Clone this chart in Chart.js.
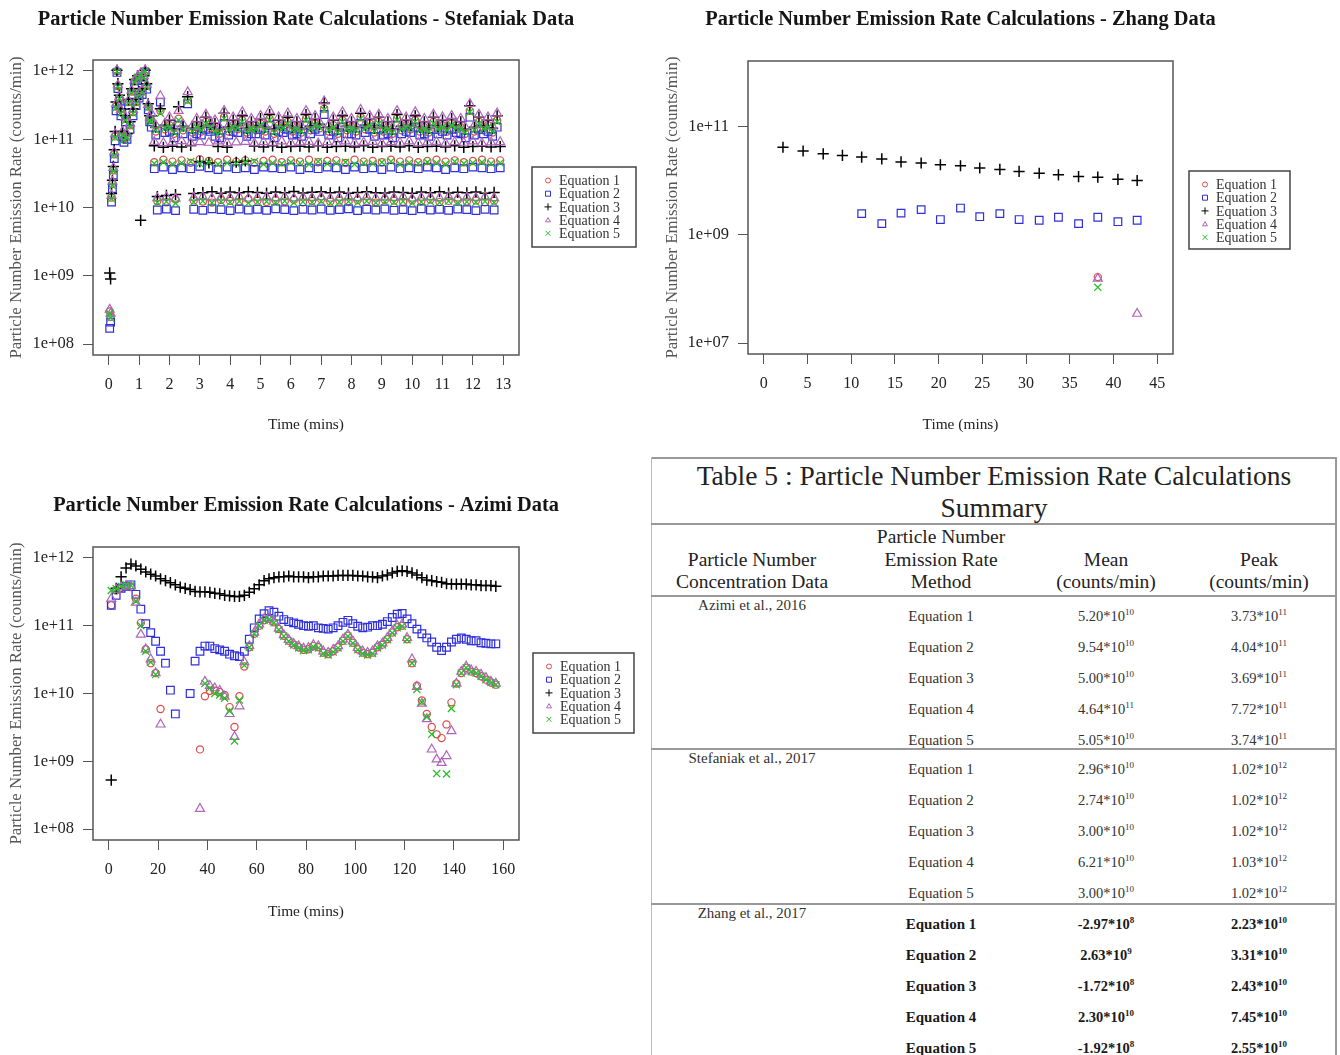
<!DOCTYPE html>
<html>
<head>
<meta charset="utf-8">
<script src="https://cdn.jsdelivr.net/npm/chart.js@4.4.1/dist/chart.umd.min.js"></script>
<style>
  body { margin: 0; background: #fff; width: 1340px; height: 1055px; overflow: hidden; position: relative;
         font-family: "Liberation Serif", "Times New Roman", serif; }
  .plot { position: absolute; }
  .txt { position: absolute; transform: translate(-50%, -50%); white-space: nowrap; color: #222; }
  .rule { position: absolute; background: #999; }
</style>
</head>
<body>
<div class="plot" style="left:0;top:0;width:650px;height:445px"><canvas id="stef"></canvas></div>
<div class="plot" style="left:660px;top:0;width:680px;height:445px"><canvas id="zhang"></canvas></div>
<div class="plot" style="left:0;top:480px;width:650px;height:455px"><canvas id="azimi"></canvas></div>
<div id="table"></div>

<script>
// ------------------------------------------------------------
// SERIES NAMES / STYLES
// ------------------------------------------------------------
const eqNames = ["Equation 1", "Equation 2", "Equation 3", "Equation 4", "Equation 5"];
const eqStyles = ["circle", "rect", "cross", "triangle", "crossRot"];
const eqColors = ["#de4a4a", "#2f2fdc", "#000000", "#b064bc", "#26c026"];

// ------------------------------------------------------------
// STEFANIAK DATA (time in minutes)
// ------------------------------------------------------------
const stefXTicks = [0, 1, 2, 3, 4, 5, 6, 7, 8, 9, 10, 11, 12, 13];
const stefYTicks = [1e8, 1e9, 1e10, 1e11, 1e12];
const stefYLabels = ["1e+08", "1e+09", "1e+10", "1e+11", "1e+12"];

const stefEarlyTime = [0.03, 0.06, 0.09, 0.12, 0.15, 0.18, 0.21, 0.24, 0.27, 0.3, 0.35, 0.4, 0.45, 0.5, 0.55,
  0.6, 0.65, 0.7, 0.75, 0.8, 0.85, 0.9, 0.95, 1.0, 1.05, 1.1, 1.15, 1.2, 1.25, 1.3, 1.35];
const stefEarlyEq1 = [3.0e8, 2.5e8, 1.4e10, 2.2e10, 3.5e10, 6.0e10, 1.1e11, 3.0e11, 1.0e12, 6.0e11, 4.0e11, 2.5e11, 1.2e11, 1.0e11, 2.0e11,
  1.1e11, 3.5e11, 1.6e11, 5.0e11, 2.5e11, 7.0e11, 3.5e11, 8.0e11, 4.5e11, 9.0e11, 5.0e11, 8.0e11, 1.0e12, 6.0e11, 3.0e11, 2.0e11];
const stefEarlyEq2 = [1.7e8, 2.1e8, 1.2e10, 1.9e10, 3.0e10, 5.2e10, 9.5e10, 2.6e11, 9.5e11, 5.5e11, 3.6e11, 2.2e11, 1.1e11, 9.0e10, 1.8e11,
  1.0e11, 3.1e11, 1.4e11, 4.5e11, 2.2e11, 6.3e11, 3.1e11, 7.2e11, 4.0e11, 8.2e11, 4.5e11, 7.3e11, 9.6e11, 5.4e11, 2.7e11, 1.8e11];
const stefEarlyEq3 = [1.1e9, 9.0e8, 1.6e10, 2.5e10, 4.0e10, 7.0e10, 1.3e11, 3.5e11, 1.02e12, 6.5e11, 4.4e11, 2.8e11, 1.3e11, 1.1e11, 2.2e11,
  1.2e11, 3.8e11, 1.8e11, 5.5e11, 2.8e11, 7.5e11, 3.8e11, 8.5e11, 5.0e11, 6.5e9, 5.5e11, 8.6e11, 1.02e12, 6.5e11, 3.3e11, 2.2e11];
const stefEarlyEq4 = [3.2e8, 2.8e8, 1.5e10, 2.4e10, 3.8e10, 6.5e10, 1.2e11, 3.3e11, 1.03e12, 6.2e11, 4.2e11, 2.7e11, 1.3e11, 1.1e11, 2.1e11,
  1.2e11, 3.7e11, 1.7e11, 5.2e11, 2.7e11, 7.3e11, 3.7e11, 8.3e11, 4.8e11, 9.3e11, 5.3e11, 8.4e11, 1.03e12, 6.3e11, 3.2e11, 2.1e11];
const stefEarlyEq5 = [2.8e8, 2.4e8, 1.35e10, 2.1e10, 3.4e10, 5.8e10, 1.05e11, 2.9e11, 9.8e11, 5.8e11, 3.9e11, 2.4e11, 1.15e11, 9.7e10, 1.9e11,
  1.05e11, 3.4e11, 1.55e11, 4.8e11, 2.4e11, 6.8e11, 3.4e11, 7.8e11, 4.4e11, 8.8e11, 4.9e11, 7.8e11, 1.0e12, 5.8e11, 2.9e11, 1.9e11];

// upper band
const stefHighTime = [1.4, 1.7, 2.0, 2.3, 2.6, 2.9, 3.2, 3.5, 3.8, 4.1, 4.4, 4.7, 5.0, 5.3, 5.6, 5.9, 6.2, 6.5, 6.8, 7.1,
  7.4, 7.7, 8.0, 8.3, 8.6, 8.9, 9.2, 9.5, 9.8, 10.1, 10.4, 10.7, 11.0, 11.3, 11.6, 11.9, 12.2, 12.5, 12.8];
const stefHighEq1 = [1.9e11, 2.6e11, 1.6e11, 2.0e11, 3.8e11, 1.5e11, 1.8e11, 1.4e11, 2.1e11, 1.6e11,
  1.9e11, 1.5e11, 1.7e11, 2.0e11, 1.6e11, 1.8e11, 1.5e11, 2.0e11, 1.7e11, 2.8e11,
  1.6e11, 1.9e11, 1.5e11, 2.1e11, 1.7e11, 1.8e11, 1.5e11, 2.0e11, 1.6e11, 1.9e11,
  1.5e11, 1.8e11, 1.6e11, 1.7e11, 1.5e11, 2.6e11, 1.8e11, 1.6e11, 1.9e11];
const stefHighEq2 = [1.5e11, 3.5e11, 1.3e11, 1.6e11, 3.3e11, 1.2e11, 1.4e11, 1.1e11, 1.7e11, 1.3e11,
  1.5e11, 1.2e11, 1.4e11, 1.6e11, 1.3e11, 1.4e11, 1.2e11, 1.6e11, 1.4e11, 2.3e11,
  1.3e11, 1.5e11, 1.2e11, 1.7e11, 1.4e11, 1.4e11, 1.2e11, 1.6e11, 1.3e11, 1.5e11,
  1.2e11, 1.4e11, 1.3e11, 1.4e11, 1.2e11, 2.1e11, 1.4e11, 1.3e11, 1.5e11];
const stefHighEq3 = [2.2e11, 2.8e11, 1.9e11, 3.0e11, 4.2e11, 1.8e11, 2.1e11, 1.7e11, 2.4e11, 1.9e11,
  2.2e11, 1.8e11, 2.0e11, 2.3e11, 1.9e11, 2.1e11, 1.8e11, 2.3e11, 2.0e11, 3.4e11,
  1.9e11, 2.2e11, 1.8e11, 2.4e11, 2.0e11, 2.1e11, 1.8e11, 2.3e11, 1.9e11, 2.2e11,
  1.8e11, 2.1e11, 1.9e11, 2.0e11, 1.8e11, 3.1e11, 2.1e11, 1.9e11, 2.2e11];
const stefHighEq4 = [2.4e11, 4.3e11, 2.1e11, 2.6e11, 4.9e11, 2.0e11, 2.3e11, 1.9e11, 2.6e11, 2.1e11,
  2.5e11, 2.0e11, 2.2e11, 2.6e11, 2.1e11, 2.4e11, 2.0e11, 2.6e11, 2.2e11, 3.6e11,
  2.1e11, 2.5e11, 2.0e11, 2.7e11, 2.2e11, 2.3e11, 2.0e11, 2.6e11, 2.1e11, 2.5e11,
  2.0e11, 2.3e11, 2.1e11, 2.2e11, 2.0e11, 3.3e11, 2.3e11, 2.1e11, 2.4e11];
const stefHighEq5 = [1.8e11, 2.4e11, 1.5e11, 1.9e11, 3.6e11, 1.5e11, 1.7e11, 1.3e11, 2.0e11, 1.5e11,
  1.8e11, 1.4e11, 1.6e11, 1.9e11, 1.5e11, 1.7e11, 1.4e11, 1.9e11, 1.6e11, 2.7e11,
  1.5e11, 1.8e11, 1.4e11, 2.0e11, 1.6e11, 1.7e11, 1.4e11, 1.9e11, 1.5e11, 1.8e11,
  1.4e11, 1.7e11, 1.5e11, 1.6e11, 1.4e11, 2.5e11, 1.7e11, 1.5e11, 1.8e11];

// upper band, lower edge (between the samples above)
const stefHigh2Time = [1.55, 1.85, 2.15, 2.45, 2.75, 3.05, 3.35, 3.65, 3.95, 4.25, 4.55, 4.85, 5.15, 5.45, 5.75, 6.05, 6.35, 6.65, 6.95,
  7.25, 7.55, 7.85, 8.15, 8.45, 8.75, 9.05, 9.35, 9.65, 9.95, 10.25, 10.55, 10.85, 11.15, 11.45, 11.75, 12.05, 12.35, 12.65];
const stefHigh2Eq1 = [1.3e11, 1.4e11, 1.2e11, 1.35e11, 1.25e11, 1.3e11, 1.45e11, 1.2e11, 1.3e11, 1.4e11,
  1.25e11, 1.35e11, 1.3e11, 1.2e11, 1.4e11, 1.3e11, 1.25e11, 1.35e11, 1.45e11, 1.3e11,
  1.2e11, 1.35e11, 1.3e11, 1.4e11, 1.25e11, 1.3e11, 1.2e11, 1.35e11, 1.4e11, 1.3e11,
  1.25e11, 1.35e11, 1.3e11, 1.4e11, 1.2e11, 1.3e11, 1.35e11, 1.25e11];
const stefHigh2Eq2 = [1.15e11, 1.25e11, 1.05e11, 1.2e11, 1.1e11, 1.15e11, 1.3e11, 1.05e11, 1.15e11, 1.25e11,
  1.1e11, 1.2e11, 1.15e11, 1.05e11, 1.25e11, 1.15e11, 1.1e11, 1.2e11, 1.3e11, 1.15e11,
  1.05e11, 1.2e11, 1.15e11, 1.25e11, 1.1e11, 1.15e11, 1.05e11, 1.2e11, 1.25e11, 1.15e11,
  1.1e11, 1.2e11, 1.15e11, 1.25e11, 1.05e11, 1.15e11, 1.2e11, 1.1e11];
const stefHigh2Eq3 = [1.5e11, 1.6e11, 1.4e11, 1.55e11, 1.45e11, 1.5e11, 1.65e11, 1.4e11, 1.5e11, 1.6e11,
  1.45e11, 1.55e11, 1.5e11, 1.4e11, 1.6e11, 1.5e11, 1.45e11, 1.55e11, 1.65e11, 1.5e11,
  1.4e11, 1.55e11, 1.5e11, 1.6e11, 1.45e11, 1.5e11, 1.4e11, 1.55e11, 1.6e11, 1.5e11,
  1.45e11, 1.55e11, 1.5e11, 1.6e11, 1.4e11, 1.5e11, 1.55e11, 1.45e11];
const stefHigh2Eq4 = [1.6e11, 1.7e11, 1.5e11, 1.65e11, 1.55e11, 1.6e11, 1.75e11, 1.5e11, 1.6e11, 1.7e11,
  1.55e11, 1.65e11, 1.6e11, 1.5e11, 1.7e11, 1.6e11, 1.55e11, 1.65e11, 1.75e11, 1.6e11,
  1.5e11, 1.65e11, 1.6e11, 1.7e11, 1.55e11, 1.6e11, 1.5e11, 1.65e11, 1.7e11, 1.6e11,
  1.55e11, 1.65e11, 1.6e11, 1.7e11, 1.5e11, 1.6e11, 1.65e11, 1.55e11];
const stefHigh2Eq5 = [1.35e11, 1.45e11, 1.25e11, 1.4e11, 1.3e11, 1.35e11, 1.5e11, 1.25e11, 1.35e11, 1.45e11,
  1.3e11, 1.4e11, 1.35e11, 1.25e11, 1.45e11, 1.35e11, 1.3e11, 1.4e11, 1.5e11, 1.35e11,
  1.25e11, 1.4e11, 1.35e11, 1.45e11, 1.3e11, 1.35e11, 1.25e11, 1.4e11, 1.45e11, 1.35e11,
  1.3e11, 1.4e11, 1.35e11, 1.45e11, 1.25e11, 1.35e11, 1.4e11, 1.3e11];

// middle band
const stefMidTime = [1.5, 1.8, 2.1, 2.4, 2.7, 3.0, 3.3, 3.6, 3.9, 4.2, 4.5, 4.8, 5.1, 5.4, 5.7, 6.0, 6.3, 6.6, 6.9, 7.2,
  7.5, 7.8, 8.1, 8.4, 8.7, 9.0, 9.3, 9.6, 9.9, 10.2, 10.5, 10.8, 11.1, 11.4, 11.7, 12.0, 12.3, 12.6, 12.9];
const stefMidEq1 = [4.6e10, 5.0e10, 4.7e10, 4.9e10, 4.5e10, 5.1e10, 4.8e10, 4.6e10, 5.0e10, 4.7e10,
  4.9e10, 4.5e10, 4.8e10, 5.0e10, 4.6e10, 4.9e10, 4.7e10, 5.0e10, 4.6e10, 4.8e10,
  4.9e10, 4.5e10, 5.0e10, 4.7e10, 4.8e10, 4.6e10, 5.0e10, 4.7e10, 4.9e10, 4.6e10,
  4.8e10, 5.0e10, 4.7e10, 4.9e10, 4.6e10, 4.8e10, 5.0e10, 4.7e10, 4.9e10];
const stefMidEq2 = [3.7e10, 3.9e10, 3.6e10, 3.8e10, 3.7e10, 4.0e10, 3.8e10, 3.6e10, 3.9e10, 3.7e10,
  3.8e10, 3.6e10, 3.9e10, 3.8e10, 3.7e10, 3.9e10, 3.6e10, 3.8e10, 3.7e10, 3.9e10,
  3.8e10, 3.6e10, 3.9e10, 3.7e10, 3.8e10, 3.6e10, 3.9e10, 3.7e10, 3.8e10, 3.7e10,
  3.9e10, 3.8e10, 3.6e10, 3.8e10, 3.7e10, 3.9e10, 3.8e10, 3.7e10, 3.8e10];
const stefMidEq3 = [8.0e10, 7.6e10, 7.9e10, 7.7e10, 8.1e10, 4.7e10, 4.5e10, 7.8e10, 7.6e10, 4.6e10,
  4.8e10, 7.9e10, 7.7e10, 8.0e10, 7.6e10, 7.8e10, 7.9e10, 7.7e10, 8.0e10, 7.6e10,
  7.8e10, 7.9e10, 7.7e10, 8.0e10, 7.6e10, 7.8e10, 7.9e10, 7.7e10, 8.0e10, 7.6e10,
  7.8e10, 7.9e10, 7.7e10, 8.0e10, 7.6e10, 7.8e10, 7.9e10, 7.7e10, 7.8e10];
const stefMidEq4 = [9.2e10, 8.8e10, 9.0e10, 9.4e10, 8.7e10, 9.1e10, 8.9e10, 9.3e10, 8.8e10, 9.0e10,
  9.2e10, 8.7e10, 9.1e10, 8.9e10, 9.3e10, 8.8e10, 9.0e10, 9.2e10, 8.7e10, 9.1e10,
  8.9e10, 9.3e10, 8.8e10, 9.0e10, 9.2e10, 8.7e10, 9.1e10, 8.9e10, 9.3e10, 8.8e10,
  9.0e10, 9.2e10, 8.7e10, 9.1e10, 8.9e10, 9.3e10, 8.8e10, 9.0e10, 9.1e10];
const stefMidEq5 = [4.4e10, 4.6e10, 4.3e10, 4.5e10, 4.7e10, 4.4e10, 4.6e10, 4.3e10, 4.5e10, 4.4e10,
  4.6e10, 4.7e10, 4.3e10, 4.5e10, 4.4e10, 4.6e10, 4.5e10, 4.3e10, 4.7e10, 4.4e10,
  4.5e10, 4.6e10, 4.3e10, 4.5e10, 4.4e10, 4.6e10, 4.7e10, 4.3e10, 4.5e10, 4.4e10,
  4.6e10, 4.5e10, 4.3e10, 4.7e10, 4.4e10, 4.5e10, 4.6e10, 4.4e10, 4.5e10];

// lower band
const stefLowTime = [1.6, 1.9, 2.2, 2.5, 2.8, 3.1, 3.4, 3.7, 4.0, 4.3, 4.6, 4.9, 5.2, 5.5, 5.8, 6.1, 6.4, 6.7, 7.0, 7.3,
  7.6, 7.9, 8.2, 8.5, 8.8, 9.1, 9.4, 9.7, 10.0, 10.3, 10.6, 10.9, 11.2, 11.5, 11.8, 12.1, 12.4, 12.7];
const stefLowEq1 = [1.24e10, 1.19e10, 1.31e10, null, 1.27e10, 1.22e10, 1.18e10, 1.29e10, 1.25e10, 1.21e10,
  1.33e10, 1.26e10, 1.2e10, 1.28e10, 1.23e10, 1.3e10, 1.19e10, 1.25e10, 1.32e10, 1.22e10,
  1.27e10, 1.2e10, 1.29e10, 1.24e10, 1.18e10, 1.3e10, 1.26e10, 1.21e10, 1.28e10, 1.23e10,
  1.31e10, 1.2e10, 1.25e10, 1.29e10, 1.22e10, 1.27e10, 1.19e10, 1.26e10];
const stefLowEq2 = [9.2e9, 9.5e9, 9.0e9, null, 9.4e9, 9.1e9, 9.6e9, 9.3e9, 9.0e9, 9.5e9,
  9.2e9, 9.4e9, 9.1e9, 9.6e9, 9.3e9, 9.0e9, 9.4e9, 9.2e9, 9.5e9, 9.1e9,
  9.3e9, 9.6e9, 9.0e9, 9.4e9, 9.2e9, 9.5e9, 9.1e9, 9.3e9, 9.0e9, 9.6e9,
  9.2e9, 9.4e9, 9.1e9, 9.5e9, 9.3e9, 9.0e9, 9.4e9, 9.2e9];
const stefLowEq3 = [1.45e10, 1.5e10, 1.55e10, null, 1.6e10, 1.65e10, 1.7e10, 1.62e10, 1.68e10, 1.64e10,
  1.7e10, 1.66e10, 1.62e10, 1.69e10, 1.65e10, 1.71e10, 1.63e10, 1.67e10, 1.7e10, 1.64e10,
  1.68e10, 1.62e10, 1.66e10, 1.7e10, 1.65e10, 1.63e10, 1.69e10, 1.66e10, 1.62e10, 1.68e10,
  1.65e10, 1.7e10, 1.63e10, 1.67e10, 1.64e10, 1.69e10, 1.62e10, 1.66e10];
const stefLowEq4 = [1.38e10, 1.42e10, 1.35e10, null, 1.4e10, 1.44e10, 1.37e10, 1.41e10, 1.39e10, 1.43e10,
  1.36e10, 1.4e10, 1.42e10, 1.38e10, 1.44e10, 1.37e10, 1.41e10, 1.39e10, 1.43e10, 1.36e10,
  1.4e10, 1.42e10, 1.38e10, 1.44e10, 1.37e10, 1.41e10, 1.39e10, 1.43e10, 1.36e10, 1.4e10,
  1.42e10, 1.38e10, 1.44e10, 1.37e10, 1.41e10, 1.39e10, 1.43e10, 1.38e10];
const stefLowEq5 = [1.18e10, 1.22e10, 1.15e10, null, 1.2e10, 1.24e10, 1.17e10, 1.21e10, 1.19e10, 1.23e10,
  1.16e10, 1.2e10, 1.22e10, 1.18e10, 1.24e10, 1.17e10, 1.21e10, 1.19e10, 1.23e10, 1.16e10,
  1.2e10, 1.22e10, 1.18e10, 1.24e10, 1.17e10, 1.21e10, 1.19e10, 1.23e10, 1.16e10, 1.2e10,
  1.22e10, 1.18e10, 1.24e10, 1.17e10, 1.21e10, 1.19e10, 1.23e10, 1.18e10];

// ------------------------------------------------------------
// ZHANG DATA
// ------------------------------------------------------------
const zhangXTicks = [0, 5, 10, 15, 20, 25, 30, 35, 40, 45];
const zhangYTicks = [1e7, 1e9, 1e11];
const zhangYLabels = ["1e+07", "1e+09", "1e+11"];
const zhangTime = [2.2, 4.5, 6.8, 9.0, 11.2, 13.5, 15.7, 18.0, 20.2, 22.5, 24.7, 27.0, 29.2, 31.5, 33.7, 36.0, 38.2, 40.5, 42.7];
const zhangEq1 = [null, null, null, null, null, null, null, null, null, null, null, null, null, null, null, null, 1.65e8, null, null];
const zhangEq2 = [null, null, null, null, 2.45e9, 1.6e9, 2.5e9, 2.9e9, 1.9e9, 3.1e9, 2.15e9, 2.45e9, 1.9e9, 1.85e9, 2.1e9, 1.6e9, 2.1e9, 1.74e9, 1.85e9];
const zhangEq3 = [4.1e10, 3.5e10, 3.1e10, 2.9e10, 2.7e10, 2.5e10, 2.2e10, 2.1e10, 1.95e10, 1.87e10, 1.7e10, 1.6e10, 1.47e10, 1.36e10, 1.27e10, 1.18e10, 1.15e10, 1.05e10, 1.0e10];
const zhangEq4 = [null, null, null, null, null, null, null, null, null, null, null, null, null, null, null, null, 1.55e8, null, 3.5e7];
const zhangEq5 = [null, null, null, null, null, null, null, null, null, null, null, null, null, null, null, null, 1.07e8, null, null];

// ------------------------------------------------------------
// AZIMI DATA
// ------------------------------------------------------------
const azimiXTicks = [0, 20, 40, 60, 80, 100, 120, 140, 160];
const azimiYTicks = [1e8, 1e9, 1e10, 1e11, 1e12];
const azimiYLabels = ["1e+08", "1e+09", "1e+10", "1e+11", "1e+12"];
const azimiTime = [1, 3, 5, 7, 9, 11, 13, 15, 17, 19,
  21, 23, 25, 27, 29, 31, 33, 35, 37, 39,
  41, 43, 45, 47, 49, 51, 53, 55, 57, 59,
  61, 63, 65, 67, 69, 71, 73, 75, 77, 79,
  81, 83, 85, 87, 89, 91, 93, 95, 97, 99,
  101, 103, 105, 107, 109, 111, 113, 115, 117, 119,
  121, 123, 125, 127, 129, 131, 133, 135, 137, 139,
  141, 143, 145, 147, 149, 151, 153, 155, 157];
const azimiEq1 = [2.0e11, 3.3e11, 3.6e11, 3.8e11, 3.7e11, 2.5e11, 1.1e11, 4.5e10, 2.8e10, 2.0e10,
  5.9e9, null, null, null, null, null, null, null, 1.5e9, 9.1e9,
  1.1e10, 1.1e10, 1.05e10, 9.5e9, 6.3e9, 3.2e9, 9.1e9, 2.5e10, 4.8e10, 7.6e10,
  1.0e11, 1.2e11, 1.26e11, 1.12e11, 8.9e10, 7.1e10, 6.0e10, 5.25e10, 4.8e10, 4.4e10,
  4.5e10, 5.0e10, 4.8e10, 4.0e10, 3.8e10, 4.2e10, 4.8e10, 6.0e10, 7.1e10, 5.6e10,
  4.5e10, 4.0e10, 3.8e10, 4.0e10, 4.8e10, 5.25e10, 6.3e10, 7.9e10, 9.5e10, 1.0e11,
  6.3e10, 2.8e10, 1.3e10, 7.9e9, 5.0e9, 3.2e9, 2.5e9, 2.2e9, 3.5e9, 7.4e9,
  1.4e10, 2.0e10, 2.4e10, 2.1e10, 2.0e10, 1.8e10, 1.6e10, 1.45e10, 1.35e10];
const azimiEq2 = [2.0e11, 2.8e11, 3.55e11, 3.8e11, 4.0e11, 2.9e11, 1.75e11, 1.07e11, 7.9e10, 5.9e10,
  4.2e10, 2.8e10, 1.12e10, 5.0e9, null, null, 1.0e10, 3.0e10, 4.2e10, 5.0e10,
  5.0e10, 4.6e10, 4.4e10, 4.2e10, 3.8e10, 3.6e10, 3.5e10, 4.2e10, 6.3e10, 9.3e10,
  1.26e11, 1.5e11, 1.66e11, 1.58e11, 1.38e11, 1.23e11, 1.15e11, 1.1e11, 1.05e11, 1.0e11,
  9.8e10, 1.0e11, 9.3e10, 9.1e10, 8.9e10, 9.3e10, 1.0e11, 1.12e11, 1.2e11, 1.07e11,
  9.8e10, 9.3e10, 9.5e10, 1.0e11, 1.0e11, 1.05e11, 1.15e11, 1.32e11, 1.48e11, 1.51e11,
  1.26e11, 1.07e11, 8.9e10, 7.6e10, 6.6e10, 5.75e10, 4.8e10, 4.3e10, 4.8e10, 5.75e10,
  6.3e10, 6.6e10, 6.3e10, 6.0e10, 6.0e10, 5.6e10, 5.5e10, 5.4e10, 5.4e10];
const azimiEq3 = [5.3e8, 3.55e11, 5.25e11, 7.1e11, 8.1e11, 7.6e11, 6.8e11, 6.2e11, 5.75e11, 5.4e11,
  4.9e11, 4.6e11, 4.3e11, 4.0e11, 3.7e11, 3.55e11, 3.4e11, 3.2e11, 3.15e11, 3.15e11,
  3.1e11, 3.0e11, 2.95e11, 2.8e11, 2.75e11, 2.7e11, 2.7e11, 2.8e11, 3.1e11, 3.5e11,
  4.0e11, 4.6e11, 4.9e11, 5.1e11, 5.25e11, 5.25e11, 5.4e11, 5.25e11, 5.25e11, 5.25e11,
  5.1e11, 5.25e11, 5.25e11, 5.4e11, 5.4e11, 5.4e11, 5.5e11, 5.5e11, 5.5e11, 5.5e11,
  5.4e11, 5.4e11, 5.25e11, 5.25e11, 5.1e11, 5.4e11, 5.6e11, 6.0e11, 6.3e11, 6.45e11,
  6.3e11, 6.0e11, 5.6e11, 5.1e11, 4.7e11, 4.6e11, 4.45e11, 4.35e11, 4.15e11, 4.1e11,
  4.1e11, 4.1e11, 4.1e11, 4.0e11, 4.0e11, 3.9e11, 3.9e11, 3.9e11, 3.8e11];
const azimiEq4 = [2.5e11, 3.4e11, 3.7e11, 3.9e11, 3.8e11, 2.2e11, 7.4e10, 4.5e10, 3.2e10, 2.0e10,
  3.5e9, null, null, null, null, null, null, null, 2.0e8, 1.5e10,
  1.3e10, 1.2e10, 1.1e10, 9.0e9, 5.0e9, 2.3e9, 6.5e9, 2.9e10, 5.0e10, 7.9e10,
  1.05e11, 1.26e11, 1.3e11, 1.15e11, 9.1e10, 7.3e10, 6.2e10, 5.4e10, 5.0e10, 4.6e10,
  4.7e10, 5.2e10, 5.0e10, 4.2e10, 4.0e10, 4.4e10, 5.0e10, 6.3e10, 7.4e10, 5.9e10,
  4.7e10, 4.2e10, 4.0e10, 4.2e10, 5.0e10, 5.5e10, 6.6e10, 8.3e10, 1.0e11, 1.05e11,
  6.6e10, 3.2e10, 1.26e10, 7.1e9, 4.2e9, 1.5e9, 1.07e9, 9.5e8, 1.2e9, 2.8e9,
  1.4e10, 2.1e10, 2.5e10, 2.2e10, 2.1e10, 1.9e10, 1.7e10, 1.5e10, 1.4e10];
const azimiEq5 = [3.3e11, 3.5e11, 3.8e11, 4.0e11, 3.9e11, 2.3e11, 1.0e11, 4.2e10, 2.9e10, 1.9e10,
  null, null, null, null, null, null, null, null, null, 1.4e10,
  1.2e10, 1.0e10, 9.5e9, 8.5e9, 5.5e9, 2.0e9, 8.0e9, 2.6e10, 4.8e10, 7.6e10,
  1.0e11, 1.2e11, 1.24e11, 1.1e11, 8.7e10, 7.0e10, 5.9e10, 5.2e10, 4.7e10, 4.3e10,
  4.4e10, 4.9e10, 4.7e10, 3.9e10, 3.7e10, 4.1e10, 4.7e10, 5.9e10, 7.0e10, 5.5e10,
  4.4e10, 3.9e10, 3.7e10, 3.9e10, 4.7e10, 5.2e10, 6.2e10, 7.8e10, 9.3e10, 9.8e10,
  6.2e10, 2.8e10, 1.15e10, 7.5e9, 4.5e9, 2.5e9, 6.6e8, null, 6.5e8, 6.0e9,
  1.35e10, 2.0e10, 2.4e10, 2.1e10, 2.0e10, 1.8e10, 1.6e10, 1.45e10, 1.35e10];

// ------------------------------------------------------------
// TABLE 5 DATA
// ------------------------------------------------------------
const tableGroups = ["Azimi et al., 2016", "Stefaniak et al., 2017", "Zhang et al., 2017"];
const azimiMeanMant = ["5.20", "9.54", "5.00", "4.64", "5.05"];
const azimiMeanExp = [10, 10, 10, 11, 10];
const azimiPeakMant = ["3.73", "4.04", "3.69", "7.72", "3.74"];
const azimiPeakExp = [11, 11, 11, 11, 11];
const stefMeanMant = ["2.96", "2.74", "3.00", "6.21", "3.00"];
const stefMeanExp = [10, 10, 10, 10, 10];
const stefPeakMant = ["1.02", "1.02", "1.02", "1.03", "1.02"];
const stefPeakExp = [12, 12, 12, 12, 12];
const zhangMeanMant = ["-2.97", "2.63", "-1.72", "2.30", "-1.92"];
const zhangMeanExp = [8, 9, 8, 10, 8];
const zhangPeakMant = ["2.23", "3.31", "2.43", "7.45", "2.55"];
const zhangPeakExp = [10, 10, 10, 10, 10];

// ------------------------------------------------------------
// HELPERS
// ------------------------------------------------------------
const FONT = '"Liberation Serif", "Times New Roman", serif';

function pts(times, vals) {
  const out = [];
  times.forEach((t, i) => {
    if (vals[i] != null) out.push({ x: t, y: vals[i] });
  });
  return out;
}

function makeDatasets(seriesPoints) {
  return seriesPoints.map((data, i) => ({
    label: eqNames[i],
    data,
    pointStyle: eqStyles[i],
    pointRadius: [3.6, 5.4, 5.6, 5.2, 5.0][i],
    pointBorderWidth: [1.2, 1.2, 1.5, 1.2, 1.3][i],
    borderColor: eqColors[i],
    pointBorderColor: eqColors[i],
    pointBackgroundColor: "rgba(0,0,0,0)",
    showLine: false,
    order: 4 - i,
  }));
}

function drawMark(ctx, style, x, y, r) {
  ctx.beginPath();
  if (style === "circle") ctx.arc(x, y, r, 0, Math.PI * 2);
  else if (style === "rect") ctx.rect(x - r, y - r, 2 * r, 2 * r);
  else if (style === "cross") {
    ctx.moveTo(x - r - 1, y); ctx.lineTo(x + r + 1, y);
    ctx.moveTo(x, y - r - 1); ctx.lineTo(x, y + r + 1);
  } else if (style === "triangle") {
    ctx.moveTo(x, y - r); ctx.lineTo(x + r, y + r * 0.7); ctx.lineTo(x - r, y + r * 0.7); ctx.closePath();
  } else {
    ctx.moveTo(x - r, y - r); ctx.lineTo(x + r, y + r);
    ctx.moveTo(x + r, y - r); ctx.lineTo(x - r, y + r);
  }
  ctx.stroke();
}

// caja del gráfico, título y leyenda al estilo R
const framePlugin = {
  id: "frame",
  afterDraw(chart, args, opts) {
    const { ctx, chartArea: a } = chart;
    ctx.save();
    ctx.strokeStyle = "#555";
    ctx.lineWidth = 1.5;
    ctx.strokeRect(a.left, a.top, a.right - a.left, a.bottom - a.top);

    ctx.fillStyle = "#151515";
    ctx.font = "bold 20.4px " + FONT;
    ctx.textAlign = "center";
    ctx.textBaseline = "middle";
    ctx.fillText(opts.title, (a.left + a.right) / 2, opts.titleY);

    const L = opts.legend;
    ctx.strokeStyle = "#444";
    ctx.lineWidth = 1.5;
    ctx.strokeRect(L.x, L.y, L.w, L.h);
    ctx.font = "14px " + FONT;
    ctx.textAlign = "left";
    eqNames.forEach((name, i) => {
      const y = L.y + 13.5 + i * 13.2;
      ctx.strokeStyle = eqColors[i];
      ctx.lineWidth = 1;
      drawMark(ctx, eqStyles[i], L.x + 16, y, 2.5);
      ctx.fillStyle = "#333";
      ctx.fillText(name, L.x + 27, y + 1);
    });
    ctx.restore();
  },
};

function makeChart(id, datasets, cfg) {
  return new Chart(document.getElementById(id), {
    type: "scatter",
    data: { datasets },
    options: {
      responsive: true,
      maintainAspectRatio: false,
      animation: false,
      events: [],
      layout: { padding: { top: cfg.top, right: cfg.right, left: 0, bottom: 0 } },
      plugins: {
        legend: { display: false },
        tooltip: { enabled: false },
        frame: { title: cfg.title, titleY: cfg.titleY, legend: cfg.legend },
      },
      scales: {
        x: {
          type: "linear",
          min: cfg.xMin,
          max: cfg.xMax,
          afterBuildTicks: (s) => { s.ticks = cfg.xTicks.map((v) => ({ value: v })); },
          afterFit: (s) => { s.height = cfg.xHeight; },
          grid: { drawOnChartArea: false, drawTicks: true, tickLength: 10, color: "#555" },
          border: { display: false },
          ticks: { color: "#222", font: { family: FONT, size: 16 }, padding: 10, maxRotation: 0, autoSkip: false },
          title: { display: true, text: "Time (mins)", color: "#222", font: { family: FONT, size: 15.4 },
                   padding: { top: 0, bottom: cfg.xTitlePad } },
        },
        y: {
          type: "logarithmic",
          min: cfg.yMin,
          max: cfg.yMax,
          afterBuildTicks: (s) => { s.ticks = cfg.yTicks.map((v) => ({ value: v })); },
          afterFit: (s) => { s.width = cfg.yWidth; },
          grid: { drawOnChartArea: false, drawTicks: true, tickLength: 10, color: "#555" },
          border: { display: false },
          ticks: { color: "#222", font: { family: FONT, size: 16.5 }, padding: 9, autoSkip: false,
                   callback: (v, i) => cfg.yLabels[i] },
          title: { display: true, text: "Particle Number Emission Rate (counts/min)", color: "#555",
                   font: { family: FONT, size: 16.8 }, padding: { top: cfg.yTitlePad, bottom: 0 } },
        },
      },
    },
    plugins: [framePlugin],
  });
}

// ------------------------------------------------------------
// CHARTS
// ------------------------------------------------------------
const stefSets = makeDatasets([
  [...pts(stefEarlyTime, stefEarlyEq1), ...pts(stefHighTime, stefHighEq1), ...pts(stefHigh2Time, stefHigh2Eq1), ...pts(stefMidTime, stefMidEq1), ...pts(stefLowTime, stefLowEq1)],
  [...pts(stefEarlyTime, stefEarlyEq2), ...pts(stefHighTime, stefHighEq2), ...pts(stefHigh2Time, stefHigh2Eq2), ...pts(stefMidTime, stefMidEq2), ...pts(stefLowTime, stefLowEq2)],
  [...pts(stefEarlyTime, stefEarlyEq3), ...pts(stefHighTime, stefHighEq3), ...pts(stefHigh2Time, stefHigh2Eq3), ...pts(stefMidTime, stefMidEq3), ...pts(stefLowTime, stefLowEq3)],
  [...pts(stefEarlyTime, stefEarlyEq4), ...pts(stefHighTime, stefHighEq4), ...pts(stefHigh2Time, stefHigh2Eq4), ...pts(stefMidTime, stefMidEq4), ...pts(stefLowTime, stefLowEq4)],
  [...pts(stefEarlyTime, stefEarlyEq5), ...pts(stefHighTime, stefHighEq5), ...pts(stefHigh2Time, stefHigh2Eq5), ...pts(stefMidTime, stefMidEq5), ...pts(stefLowTime, stefLowEq5)],
]);

makeChart("stef", stefSets, {
  top: 60, right: 131, yWidth: 93, xHeight: 90,
  xMin: -0.52, xMax: 13.52, xTicks: stefXTicks,
  yMin: 6.92e7, yMax: 1.445e12, yTicks: stefYTicks, yLabels: stefYLabels,
  xTitlePad: 11, yTitlePad: 7,
  title: "Particle Number Emission Rate Calculations - Stefaniak Data", titleY: 20,
  legend: { x: 532, y: 167, w: 104, h: 80 },
});

makeChart("zhang", makeDatasets([
  pts(zhangTime, zhangEq1), pts(zhangTime, zhangEq2), pts(zhangTime, zhangEq3),
  pts(zhangTime, zhangEq4), pts(zhangTime, zhangEq5),
]), {
  top: 61, right: 167, yWidth: 88, xHeight: 91,
  xMin: -1.8, xMax: 46.8, xTicks: zhangXTicks,
  yMin: 6.3e6, yMax: 1.6e12, yTicks: zhangYTicks, yLabels: zhangYLabels,
  xTitlePad: 11, yTitlePad: 3,
  title: "Particle Number Emission Rate Calculations - Zhang Data", titleY: 20,
  legend: { x: 529, y: 171, w: 101, h: 78 },
});

makeChart("azimi", makeDatasets([
  pts(azimiTime, azimiEq1), pts(azimiTime, azimiEq2), pts(azimiTime, azimiEq3),
  pts(azimiTime, azimiEq4), pts(azimiTime, azimiEq5),
]), {
  top: 67, right: 131, yWidth: 93, xHeight: 95,
  xMin: -6.4, xMax: 166.4, xTicks: azimiXTicks,
  yMin: 6.92e7, yMax: 1.445e12, yTicks: azimiYTicks, yLabels: azimiYLabels,
  xTitlePad: 14, yTitlePad: 7,
  title: "Particle Number Emission Rate Calculations - Azimi Data", titleY: 26,
  legend: { x: 533, y: 173, w: 101, h: 80 },
});

// ------------------------------------------------------------
// TABLE 5
// ------------------------------------------------------------
const tbl = document.getElementById("table");

function put(html, cx, cy, size, extra) {
  const d = document.createElement("div");
  d.className = "txt";
  d.style.left = cx + "px";
  d.style.top = cy + "px";
  d.style.fontSize = size + "px";
  if (extra) Object.assign(d.style, extra);
  d.innerHTML = html;
  tbl.appendChild(d);
}

function rule(x, y, w, h, color) {
  const d = document.createElement("div");
  d.className = "rule";
  Object.assign(d.style, { left: x + "px", top: y + "px", width: w + "px", height: h + "px" });
  if (color) d.style.background = color;
  tbl.appendChild(d);
}

const sci = (m, e) => `${m}*10<sup style="font-size:9px;vertical-align:6px;line-height:0">${e}</sup>`;

// bordes
rule(651, 457, 686, 2);
rule(651, 457, 1, 598, "#bbb");
rule(1335, 457, 2, 598);
[523, 595, 748, 903].forEach((y) => rule(651, y, 686, 2));

put("Table 5 : Particle Number Emission Rate Calculations", 994, 476, 27.5);
put("Summary", 994, 508, 27.5);

put("Particle Number", 752, 560, 19.5);
put("Concentration Data", 752, 582, 19.5);
put("Particle Number", 941, 537, 19.5);
put("Emission Rate", 941, 560, 19.5);
put("Method", 941, 582, 19.5);
put("Mean", 1106, 560, 19.5);
put("(counts/min)", 1106, 582, 19.5);
put("Peak", 1259, 560, 19.5);
put("(counts/min)", 1259, 582, 19.5);

const groupTops = [595, 748, 903];
const groupMeans = [[azimiMeanMant, azimiMeanExp], [stefMeanMant, stefMeanExp], [zhangMeanMant, zhangMeanExp]];
const groupPeaks = [[azimiPeakMant, azimiPeakExp], [stefPeakMant, stefPeakExp], [zhangPeakMant, zhangPeakExp]];

tableGroups.forEach((g, gi) => {
  const top = groupTops[gi];
  put(g, 752, top + 10, 15, { color: "#333" });
  const extra = gi === 2 ? { fontWeight: "bold", color: "#1a1a1a" } : { color: "#333" };
  eqNames.forEach((name, i) => {
    const y = top + 21 + i * 31;
    put(name, 941, y, 15, extra);
    put(sci(groupMeans[gi][0][i], groupMeans[gi][1][i]), 1106, y, 14.5, extra);
    put(sci(groupPeaks[gi][0][i], groupPeaks[gi][1][i]), 1259, y, 14.5, extra);
  });
});
</script>
</body>
</html>
